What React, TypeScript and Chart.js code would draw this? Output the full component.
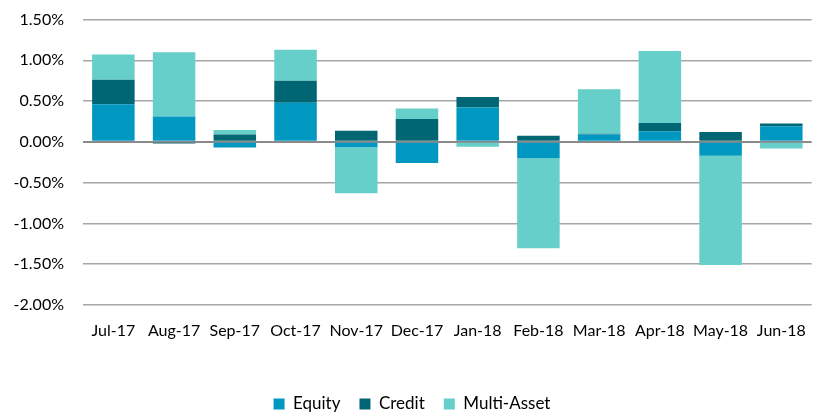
import React, { useEffect, useRef } from "react";
import { Chart, registerables } from "chart.js";

Chart.register(...registerables);

const categories = ["Jul-17", "Aug-17", "Sep-17", "Oct-17", "Nov-17", "Dec-17", "Jan-18", "Feb-18", "Mar-18", "Apr-18", "May-18", "Jun-18"];
const equity = [0.46, 0.31, -0.07, 0.48, -0.065, -0.26, 0.42, -0.2, 0.09, 0.13, -0.17, 0.19];
const credit = [0.3, -0.02, 0.09, 0.27, 0.135, 0.28, 0.13, 0.075, 0.01, 0.1, 0.12, 0.035];
const multiAsset = [0.31, 0.79, 0.055, 0.38, -0.565, 0.13, -0.06, -1.105, 0.545, 0.885, -1.34, -0.08];

const FONT = "Lato, 'Open Sans', sans-serif";

const legendShift = {
  id: "legendShift",
  afterLayout(chart: any) {
    const lg = chart.legend;
    if (lg) {
      lg.top += 9.5;
      lg.bottom += 9.5;
    }
  },
};

export default function App() {
  const ref = useRef<HTMLCanvasElement | null>(null);

  useEffect(() => {
    document.body.style.margin = "0";
    const canvas = ref.current;
    if (!canvas) return;
    const chart = new Chart(canvas, {
      type: "bar",
      data: {
        labels: categories,
        datasets: [
          { label: "Equity", data: equity, backgroundColor: "#0097C1" },
          { label: "Credit", data: credit, backgroundColor: "#006674" },
          { label: "Multi-Asset", data: multiAsset, backgroundColor: "#66CFCA" },
        ],
      },
      plugins: [legendShift],
      options: {
        animation: false,
        responsive: false,
        maintainAspectRatio: false,
        layout: { padding: { left: 8, right: 6, top: 19.5, bottom: 0 } },
        datasets: { bar: { barPercentage: 0.7, categoryPercentage: 1.0, borderWidth: 0 } },
        plugins: {
          tooltip: { enabled: false },
          legend: {
            position: "bottom",
            labels: {
              color: "#000",
              font: { family: FONT, size: 17 },
              boxWidth: 11,
              boxHeight: 11,
              padding: 19,
            },
          },
        },
        scales: {
          x: {
            stacked: true,
            grid: { display: false, drawTicks: false },
            border: { display: false },
            ticks: { color: "#000", font: { family: FONT, size: 16 }, padding: 16, maxRotation: 0 },
            afterFit: (s: any) => { s.height = 62; },
          },
          y: {
            stacked: true,
            min: -2,
            max: 1.5,
            ticks: {
              stepSize: 0.5,
              color: "#000",
              font: { family: FONT, size: 16 },
              padding: 0,
              callback: (v: any) => Number(v).toFixed(2) + "%",
            },
            grid: {
              drawTicks: true,
              tickLength: 19,
              tickColor: "rgba(0,0,0,0)",
              color: (c: any) => (c.tick && c.tick.value === 0 ? "#8a8a8a" : "#a6a6a6"),
              lineWidth: (c: any) => (c.tick && c.tick.value === 0 ? 2 : 1.5),
            },
            border: { display: false },
            afterFit: (s: any) => { s.width = 75; },
          },
        },
      },
    });
    return () => chart.destroy();
  }, []);

  return (
    <div style={{ position: "fixed", left: 0, top: 0, width: 822, height: 413, background: "#fff" }}>
      <canvas ref={ref} width={822} height={413} style={{ width: 822, height: 413, display: "block" }} />
    </div>
  );
}
